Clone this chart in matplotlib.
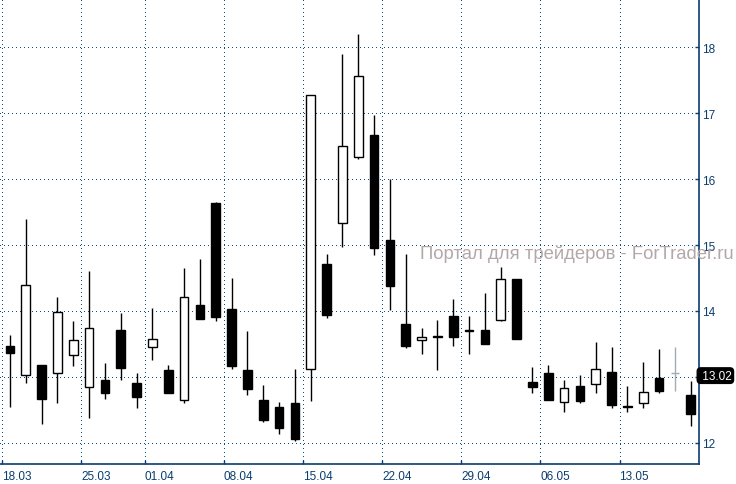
#!/usr/bin/env python3

import matplotlib
matplotlib.use('Agg')
import matplotlib.pyplot as plt
import numpy as np
import pandas as pd

matplotlib.rcParams['lines.scale_dashes'] = False

# daily bars 18.03 - 17.05 (29.03 is a holiday)
dates = pd.bdate_range('2013-03-18', '2013-05-17').drop(pd.Timestamp('2013-03-29'))

opens = [13.465, 13.03, 13.18, 13.06, 13.33, 12.84, 12.95, 13.71, 12.91, 13.45,
         13.11, 12.65, 14.09, 15.64, 14.03, 13.11, 12.65, 12.55, 12.61, 13.12,
         14.71, 15.34, 16.33, 16.67, 15.08, 13.80, 13.56, 13.62, 13.93, 13.71,
         13.71, 13.87, 14.48, 12.92, 13.06, 12.62, 12.86, 12.90, 13.08, 12.56,
         12.60, 12.98, 13.065, 12.73]
highs = [13.64, 15.39, 13.18, 14.21, 13.85, 14.61, 13.21, 13.97, 13.06, 14.05,
         13.18, 14.65, 14.79, 15.65, 14.50, 13.69, 12.88, 12.62, 13.12, 17.27,
         14.86, 17.89, 18.20, 16.97, 16.00, 14.87, 13.74, 13.86, 14.18, 13.93,
         14.27, 14.66, 14.48, 13.15, 13.18, 12.95, 13.03, 13.53, 13.45, 12.86,
         13.22, 13.42, 13.45, 12.94]
lows = [12.55, 12.91, 12.29, 12.61, 13.17, 12.38, 12.67, 12.96, 12.53, 13.25,
        12.75, 12.61, 13.88, 13.85, 13.12, 12.73, 12.31, 12.14, 12.03, 12.64,
        13.90, 14.97, 16.31, 14.85, 14.02, 13.44, 13.35, 13.11, 13.47, 13.35,
        13.50, 13.85, 13.57, 12.76, 12.65, 12.47, 12.61, 12.76, 12.53, 12.47,
        12.53, 12.76, 12.78, 12.25]
closes = [13.36, 14.39, 12.66, 13.98, 13.56, 13.74, 12.76, 13.14, 12.69, 13.57,
          12.76, 14.21, 13.88, 13.91, 13.17, 12.82, 12.35, 12.23, 12.06, 17.27,
          13.94, 16.50, 17.56, 14.96, 14.38, 13.47, 13.61, 13.60, 13.60, 13.69,
          13.50, 14.48, 13.58, 12.84, 12.65, 12.83, 12.64, 13.12, 12.58, 12.54,
          12.77, 12.79, 13.055, 12.44]
price_levels = [12, 13, 14, 15, 16, 17, 18]
last_price = 13.02
watermark = 'Портал для трейдеров - ForTrader.ru'

AXC = '#0b3d6e'
GRID = '#0d4f8b'
GRAY = '#a3abb3'
gray_bar = 42
DOTS = (0, (0.72, 2.88))

x = np.arange(len(dates))
o = np.array(opens)
c = np.array(closes)
up = c >= o

fig = plt.figure(figsize=(7.36, 4.85), dpi=100)
ax = fig.add_axes([0, 20 / 485, 699 / 736, 465 / 485])

# grid
for v in price_levels:
    ax.axhline(v, color=GRID, lw=1, ls=DOTS, antialiased=False, zorder=0)
week_start = [i for i in x if i == 0 or dates[i].weekday() < dates[i - 1].weekday()]
for i in week_start:
    ax.axvline(i - 0.5, color=GRID, lw=1, ls=DOTS, antialiased=False, zorder=0)

# candles
wick_colors = ['black'] * len(x)
wick_colors[gray_bar] = GRAY
ax.vlines(x, lows, highs, colors=wick_colors, lw=1, zorder=2)
face = np.where(up, 'white', 'black').astype(object)
edge = np.array(['black'] * len(x), dtype=object)
face[gray_bar] = GRAY
edge[gray_bar] = GRAY
ax.bar(x, np.abs(c - o), bottom=np.minimum(o, c), width=0.55,
       color=list(face), edgecolor=list(edge), linewidth=1, zorder=3)

ax.set_xlim(-0.63, 43.52)
ax.set_ylim(11.68, 18.73)

for s in ['left', 'top']:
    ax.spines[s].set_visible(False)
for s in ['right', 'bottom']:
    ax.spines[s].set_color(AXC)
    ax.spines[s].set_linewidth(1.2)

# the last price tag hides the 13 label
ax.yaxis.tick_right()
ax.set_yticks(price_levels)
ax.set_yticklabels(['' if abs(v - last_price) < 0.3 else str(v) for v in price_levels])
ax.set_xticks([i - 0.5 for i in week_start])
ax.set_xticklabels([dates[i].strftime('%d.%m') for i in week_start])
for lab in ax.get_xticklabels():
    lab.set_horizontalalignment('left')
ax.tick_params(axis='y', direction='in', length=3, width=1, color=AXC,
               labelcolor=AXC, labelsize=8.5, pad=2.5)
ax.tick_params(axis='x', direction='in', length=3, width=1, color=AXC,
               labelcolor=AXC, labelsize=8.5, pad=4.5)
for lab in ax.get_xticklabels() + ax.get_yticklabels():
    lab.set_family('Liberation Sans')

# last price tag
ax.text(1.0, last_price, f' {last_price:.2f}', transform=ax.get_yaxis_transform(),
        ha='left', va='center', color='white', fontsize=8.5, family='Liberation Sans',
        clip_on=False, zorder=5,
        bbox=dict(boxstyle='round,pad=0.15,rounding_size=0.3', fc='black', ec='black'))

fig.text(420 / 736, 1 - 254 / 485, watermark, ha='left', va='center',
         color='#b3a8a8', fontsize=13.3, family='Liberation Sans', zorder=10)

plt.savefig('out.png', dpi=100)
